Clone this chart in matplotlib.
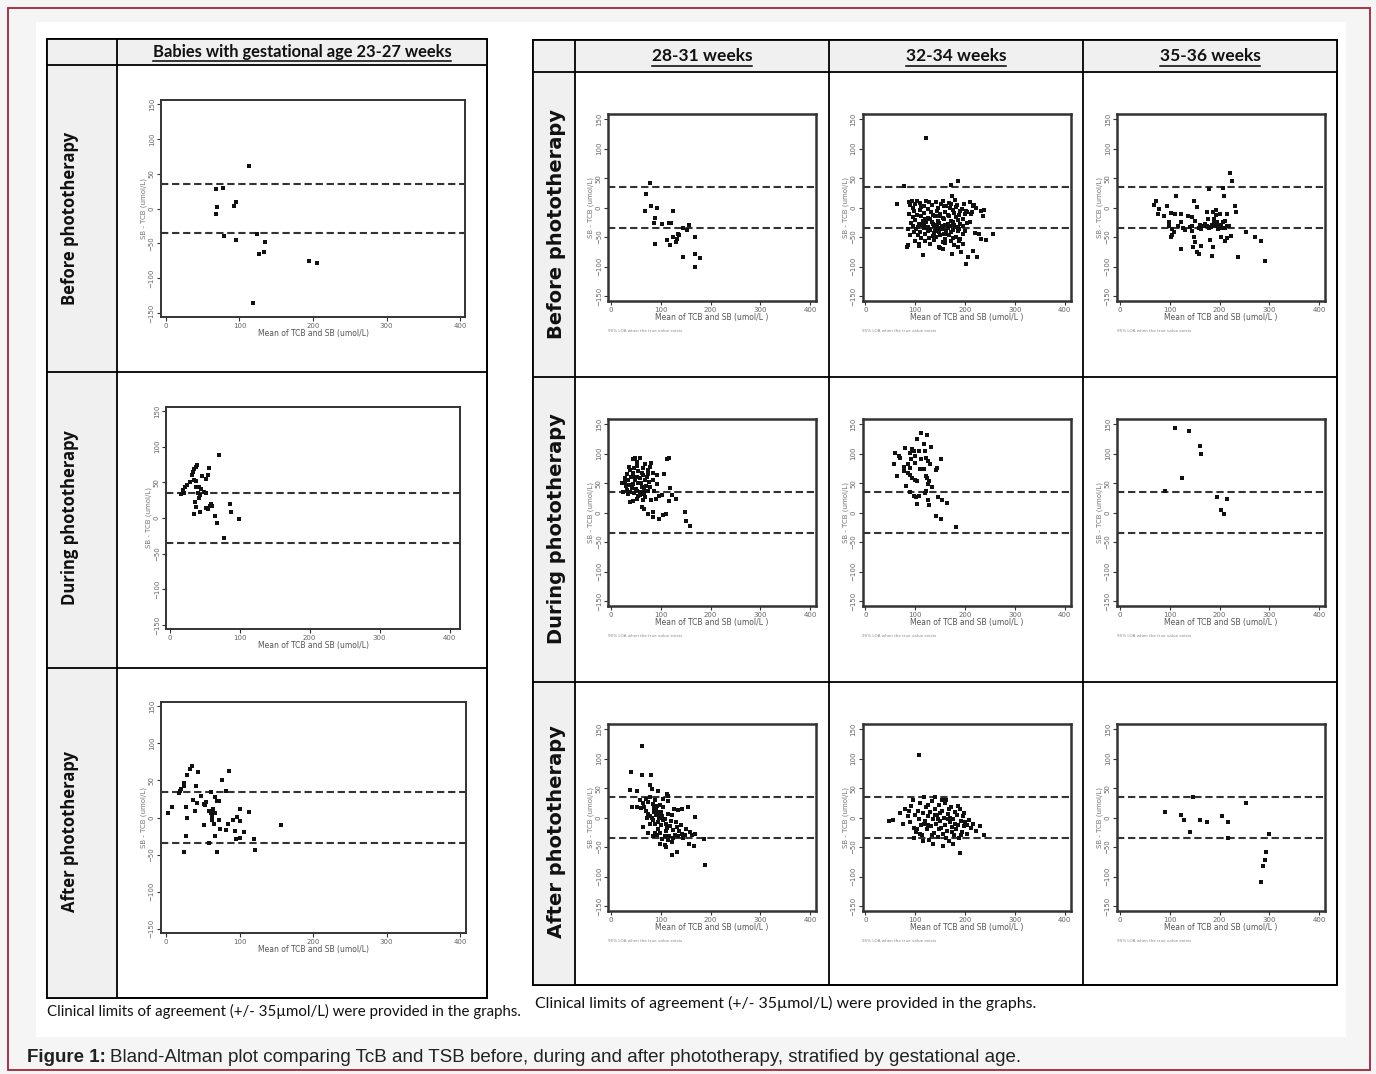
import matplotlib
matplotlib.use("Agg")
import matplotlib.pyplot as plt
from matplotlib.patches import Rectangle

# ---- data: (mean of TCB and SB, SB - TCB) ----
ga_23_27_before_x = [113, 68, 78, 69, 68, 92, 95, 79, 95, 124, 135, 126, 133, 194, 205, 118]
ga_23_27_before_y = [61, 28, 30, 2, -8, 4, 10, -39, -45, -36, -48, -65, -62, -75, -78, -135]

ga_23_27_during_x = [70, 39, 37, 35, 33, 31, 56, 54, 51, 46, 34, 37, 29, 24, 21, 19, 16, 20,
                     37, 41, 45, 40, 49, 51, 43, 41, 36, 38, 43, 34, 51, 55, 57, 59, 61,
                     65, 67, 86, 87, 99, 78]
ga_23_27_during_y = [89, 75, 72, 69, 65, 61, 70, 60, 55, 59, 53, 52, 50, 46, 43, 39, 34, 35,
                     43, 44, 41, 35, 36, 35, 32, 28, 23, 16, 9, 5, 14, 13, 17, 19, 17,
                     3, -7, 19, 9, -2, -28]

ga_23_27_after_x = [3, 8, 18, 19, 21, 24, 25, 29, 33, 36, 43, 41, 37, 42, 39, 48, 27, 28, 27, 25,
                    52, 54, 53, 61, 59, 61, 63, 62, 64, 67, 65, 69, 72, 67, 72, 74, 76, 85, 82, 84,
                    82, 70, 66, 58, 52, 91, 96, 101, 101, 94, 100, 95, 106, 113, 119, 121, 157]
ga_23_27_after_y = [6, 14, 33, 36, 39, 42, 47, 57, 66, 70, 61, 42, 24, 20, 9, 29, 14, -1, -25, -47,
                    18, 21, 17, 34, 9, 6, 2, -3, 11, 6, -9, 22, 22, 27, -3, -15, 50, 63, 36, -9,
                    -17, -46, -25, -34, -10, -3, 1, -5, 11, -18, -27, -29, -20, 7, -29, -44, -10]

ga_28_31_before = [(78, 42), (70, 23), (69, -5), (80, 2), (92, -1), (124, -5), (89, -18), (86, -26),
                   (102, -27), (117, -26), (120, -26), (145, -35), (152, -38), (156, -30), (134, -44),
                   (136, -46), (125, -50), (132, -54), (113, -55), (119, -64), (131, -59), (88, -62),
                   (169, -50), (145, -83), (168, -78), (179, -86), (169, -101)]

ga_32_34_before = [(121, 119), (78, 37), (172, 39), (186, 45), (174, 19), (63, 6), (256, -44),
                   (202, -96), (206, -83), (224, -84), (216, -73), (192, -76), (173, -79), (115, -80),
                   (85, -63), (108, -65), (149, -69), (156, -70), (243, -55), (233, -54), (229, -45),
                   (239, -4), (236, -15), (219, 4), (216, 2), (212, -10), (202, -5),
                   (88, 9), (93, 11), (104, 12), (109, 8), (121, 11), (128, 10), (141, 9), (156, 12),
                   (167, 8), (179, 13), (211, 10), (90, 4), (99, 6), (117, 3), (134, 5), (151, 7),
                   (162, 3), (171, 6), (184, 4), (198, 7), (95, -1), (112, 1), (126, -2), (146, 0),
                   (158, 2), (170, -1), (182, 1), (194, -2), (222, -1), (98, -6), (110, -4), (131, -7),
                   (143, -5), (160, -8), (176, -4), (190, -6), (204, -7), (232, -6), (88, -11),
                   (104, -12), (118, -9), (135, -13), (150, -10), (165, -12), (178, -9), (188, -13),
                   (200, -11), (215, -8), (95, -16), (112, -14), (126, -17), (140, -15), (155, -18),
                   (168, -14), (182, -16), (196, -19), (100, -21), (115, -22), (130, -19), (145, -23),
                   (158, -20), (172, -22), (185, -21), (210, -24), (92, -26), (108, -27), (122, -25),
                   (135, -28), (148, -26), (162, -29), (175, -25), (190, -27), (205, -26), (96, -31),
                   (112, -30), (125, -33), (138, -31), (150, -34), (160, -30), (170, -32), (180, -33),
                   (195, -31), (85, -36), (102, -37), (118, -35), (130, -38), (142, -36), (155, -37),
                   (165, -35), (176, -38), (188, -36), (200, -39), (98, -41), (110, -42), (125, -40),
                   (138, -43), (148, -41), (162, -44), (172, -42), (185, -40), (220, -43), (90, -46),
                   (105, -47), (120, -45), (135, -48), (150, -46), (168, -47), (182, -49), (195, -45),
                   (112, -51), (128, -52), (142, -50), (160, -53), (175, -51), (190, -54), (100, -56),
                   (120, -57), (138, -55), (155, -58), (172, -56), (188, -57), (108, -61), (130, -62),
                   (160, -60), (178, -63), (196, -61), (84, -66), (148, -66), (185, -67),
                   (133, -24), (144, -29), (153, -31), (128, -37), (166, -27), (140, -40), (157, -44),
                   (117, -28), (178, -30), (147, -15), (120, -20), (161, -39), (186, -33), (106, -33)]

ga_35_36_before = [(221, 59), (226, 45), (179, 31), (208, 33), (209, 19), (113, 20), (72, 12), (69, 4),
                   (78, -2), (77, -10), (94, 2), (89, -14), (102, -9), (111, -11), (122, -11), (148, 12),
                   (154, 1), (136, -14), (145, -16), (150, -22), (123, -24), (98, -24), (99, -31),
                   (104, -37), (109, -42), (102, -49), (104, -46), (116, -32), (131, -38), (144, -31),
                   (144, -39), (158, -35), (163, -37), (167, -32), (174, -31), (179, -35), (184, -29),
                   (188, -26), (191, -31), (194, -24), (197, -32), (203, -29), (207, -24), (212, -34),
                   (216, -32), (219, -32), (201, -10), (186, -7), (192, -12), (175, -7), (211, -22),
                   (215, -11), (231, 2), (234, -7), (223, -48), (204, -49), (211, -56), (216, -52),
                   (181, -55), (187, -67), (185, -82), (123, -71), (146, -67), (150, -58), (148, -50),
                   (159, -79), (154, -76), (162, -65), (237, -83), (253, -42), (272, -50), (284, -56),
                   (292, -90), (170, -28), (182, -33), (189, -20), (196, -36), (205, -34), (140, -33),
                   (127, -35), (160, -29), (176, -20), (193, -4)]

ga_28_31_during = [(117, 93), (113, 91), (48, 93), (44, 91), (58, 92), (53, 86), (80, 84), (78, 78),
                   (75, 72), (65, 76), (37, 78), (38, 72), (33, 65), (28, 58), (28, 52), (45, 67),
                   (52, 61), (58, 58), (65, 64), (68, 56), (74, 65), (84, 67), (92, 64), (107, 65),
                   (85, 56), (77, 52), (37, 47), (45, 48), (55, 50), (62, 44), (32, 39), (38, 35),
                   (46, 33), (53, 37), (60, 35), (67, 31), (68, 26), (64, 22), (52, 24), (44, 20),
                   (38, 18), (80, 22), (90, 24), (86, 37), (75, 37), (97, 29), (119, 42), (122, 30),
                   (131, 23), (117, 20), (63, 9), (66, 7), (75, -3), (85, 1), (85, -7), (96, -11),
                   (111, -3), (102, 30), (104, -4), (149, 1), (151, -14), (158, -22), (93, 48),
                   (25, 35), (23, 50), (40, 60), (48, 55), (55, 70), (60, 50), (70, 45), (42, 42),
                   (50, 40), (58, 30), (35, 55), (30, 45), (72, 60), (62, 68), (47, 75), (66, 38),
                   (78, 44), (55, 28), (45, 62), (35, 32), (52, 80), (68, 82)]

ga_32_34_during = [(112, 136), (123, 132), (104, 125), (117, 116), (131, 112), (80, 109), (94, 108),
                   (97, 105), (60, 101), (107, 105), (90, 102), (100, 97), (119, 104), (121, 93),
                   (125, 88), (130, 82), (151, 91), (68, 97), (70, 93), (58, 82), (92, 91), (112, 91),
                   (85, 82), (78, 78), (99, 84), (109, 74), (78, 71), (85, 67), (89, 64), (94, 59),
                   (99, 56), (103, 54), (63, 62), (89, 75), (117, 74), (121, 63), (123, 59), (127, 54),
                   (125, 48), (121, 37), (119, 33), (82, 46), (134, 44), (143, 76), (142, 72), (90, 35),
                   (97, 29), (101, 27), (107, 29), (103, 14), (125, 22), (127, 13), (145, 27), (154, 22),
                   (164, 16), (142, -5), (152, -11), (182, -24)]

ga_35_36_during = [(110, 143), (139, 139), (160, 113), (163, 99), (124, 58), (91, 36), (194, 26),
                   (215, 23), (203, 5), (209, -2)]

ga_28_31_after = [(62, 122), (40, 78), (62, 72), (80, 72), (78, 56), (82, 48), (38, 47), (52, 46),
                  (94, 46), (113, 40), (115, 37), (42, 18), (53, 18), (60, 16), (66, 18), (58, 30),
                  (70, 31), (75, 27), (78, 35), (84, 24), (86, 16), (92, 20), (99, 22), (104, 31),
                  (105, 18), (115, 29), (91, 13), (93, 10), (97, 7), (102, 3), (75, 7), (78, 2),
                  (84, -4), (72, -1), (88, -10), (95, -7), (100, -13), (105, -4), (111, -10), (115, 7),
                  (122, 5), (127, 14), (134, 13), (142, 14), (155, 18), (169, 1), (113, -18),
                  (119, -14), (125, -21), (132, -16), (137, -22), (142, -28), (151, -20), (159, -24),
                  (162, -29), (169, -27), (88, -26), (93, -29), (99, -26), (109, -31), (117, -31),
                  (125, -35), (134, -32), (145, -35), (156, -44), (167, -48), (187, -37), (99, -45),
                  (109, -46), (111, -50), (123, -41), (122, -63), (132, -58), (189, -80), (64, -16),
                  (75, -26), (85, -32), (78, -10), (90, 5), (96, 0), (108, -2), (100, 10), (86, 10),
                  (110, -22), (120, -5), (130, -8), (140, -12), (148, -30), (128, -30), (115, -38),
                  (103, -36), (95, -20), (82, 0), (70, 12), (65, 25), (88, 30)]

ga_32_34_after = [(107, 106), (48, -5), (55, -4), (70, 8), (75, -10), (80, 15), (85, 2), (90, -8),
                  (92, 20), (95, 30), (98, -18), (100, 5), (102, -25), (105, 12), (108, -3), (110, 25),
                  (112, -12), (114, -30), (116, 8), (118, 35), (120, -6), (122, 18), (124, -20),
                  (126, 2), (128, -38), (130, 10), (132, -15), (134, 28), (136, -2), (138, -26),
                  (140, 15), (142, -10), (144, 5), (146, -33), (148, 22), (150, -5), (152, -18),
                  (154, 12), (156, -28), (158, 0), (160, -12), (162, 30), (164, -22), (166, 6),
                  (168, -40), (170, -8), (172, 18), (174, -16), (176, -2), (178, -30), (180, 10),
                  (182, -20), (184, 4), (186, -12), (188, -35), (190, 15), (192, -5), (194, -25),
                  (196, 2), (198, -15), (200, -8), (204, -28), (208, -4), (212, -18), (216, -10),
                  (222, -22), (230, -15), (238, -30), (104, -20), (118, -10), (126, 22), (133, -30),
                  (139, 5), (147, -20), (153, 30), (161, -35), (167, 15), (173, -25), (179, -10),
                  (185, 20), (191, -30), (197, 8), (203, -12), (115, -40), (135, -45), (155, -48),
                  (175, -45), (189, -60), (98, -35), (88, 12), (110, -28), (140, 35), (160, 25),
                  (145, -2), (125, -12), (165, -2), (150, 8), (170, 0)]

ga_35_36_after = [(91, 10), (123, 5), (129, -4), (141, -24), (147, 35), (161, -4), (175, -7), (205, 3),
                  (217, -7), (217, -34), (253, 25), (300, -28), (293, -58), (291, -72), (287, -82),
                  (284, -110)]

right_headers = ["28-31 weeks", "32-34 weeks", "35-36 weeks"]
row_labels = ["Before phototherapy", "During phototherapy", "After phototherapy"]
x_ticks = [0, 100, 200, 300, 400]
y_ticks = [-150, -100, -50, 0, 50, 100, 150]
clinical_limit = 35

W, H = 1376, 1074
fig = plt.figure(figsize=(W / 100, H / 100), dpi=100)
fig.patch.set_facecolor("#f5f5f5")

bg = fig.add_axes([0, 0, 1, 1])
bg.set_xlim(0, W)
bg.set_ylim(H, 0)
bg.axis("off")


def px_axes(x0, y0, x1, y1):
    return fig.add_axes([x0 / W, 1 - y1 / H, (x1 - x0) / W, (y1 - y0) / H])


def box(x0, y0, x1, y1, fc="none", ec="black", lw=1.0):
    bg.add_patch(Rectangle((x0, y0), x1 - x0, y1 - y0, facecolor=fc, edgecolor=ec, lw=lw))


def hline(x0, x1, y, lw=1.0):
    bg.plot([x0, x1], [y, y], color="black", lw=lw)


def vline(x, y0, y1, lw=1.0):
    bg.plot([x, x], [y0, y1], color="black", lw=lw)


# page background, border
box(8, 8, 1370, 1070, ec="#a3243b", lw=1.3)
box(36, 22, 1346, 1037, fc="white", ec="none")

# left table
box(47, 39, 487, 998, fc="white", lw=1.3)
box(47, 39, 487, 65, fc="#f0f0f0", ec="none")
box(47, 39, 117, 998, fc="#f0f0f0", ec="none")
box(47, 39, 487, 998, lw=1.3)
hline(47, 487, 65, 1.3)
hline(47, 487, 372, 1.3)
hline(47, 487, 668, 1.3)
vline(117, 39, 998, 1.3)

# right table
box(533, 40, 1337, 985, fc="white", lw=1.3)
box(533, 40, 1337, 72, fc="#f0f0f0", ec="none")
box(533, 40, 575, 985, fc="#f0f0f0", ec="none")
box(533, 40, 1337, 985, lw=1.3)
hline(533, 1337, 72, 1.3)
hline(533, 1337, 377, 1.3)
hline(533, 1337, 682, 1.3)
for xv in [575, 829, 1083]:
    vline(xv, 40, 985, 1.3)

# headers and row labels
head_texts = []
t = bg.text(302, 52, "Babies with gestational age 23-27 weeks", ha="center", va="center",
            fontsize=11.9, fontweight="bold", family="Lato", color="#111")
head_texts.append((t, 61))
for i, lab in enumerate(right_headers):
    t = bg.text(702 + 254 * i, 56, lab, ha="center", va="center", fontsize=12.5,
                fontweight="bold", family="Lato", color="#111")
    head_texts.append((t, 66))

for yc, lab in zip([218, 518, 832], row_labels):
    bg.text(70, yc, lab, ha="center", va="center", rotation=90, fontsize=12,
            fontweight="bold", family="Open Sans", color="#111")
for yc, lab in zip([224, 529, 832], row_labels):
    bg.text(556, yc, lab, ha="center", va="center", rotation=90, fontsize=14,
            fontweight="bold", family="DejaVu Sans", color="#111")

bg.text(47, 1011, "Clinical limits of agreement (+/- 35\u00b5mol/L) were provided in the graphs.",
        ha="left", va="center", fontsize=10.8, family="Lato", color="#111")
bg.text(535, 1003, "Clinical limits of agreement (+/- 35\u00b5mol/L) were provided in the graphs.",
        ha="left", va="center", fontsize=11.4, family="Lato", color="#111")

cap = bg.text(27, 1057, "Figure 1:", ha="left", va="center", fontsize=13.5,
              fontweight="bold", family="Liberation Sans", color="#222")


def panel(frame, xs, ys, xlim, ylim, xlabel, note, lw_frame):
    ax = px_axes(*frame)
    ax.scatter(xs, ys, s=6.5, marker="s", color="#111111", linewidths=0, zorder=3)
    for lv in (clinical_limit, -clinical_limit):
        ax.axhline(lv, color="#333333", lw=1.5, ls=(0, (3.5, 1.8)), zorder=2)
    ax.set_xlim(*xlim)
    ax.set_ylim(*ylim)
    ax.set_xticks(x_ticks)
    ax.set_yticks(y_ticks)
    ax.tick_params(direction="out", length=3, width=0.8, labelsize=5, labelcolor="#666",
                   color="#333", pad=1.5)
    ax.tick_params(axis="y", labelrotation=90)
    for lab in ax.get_yticklabels():
        lab.set_va("center")
    for sp in ax.spines.values():
        sp.set_linewidth(lw_frame)
        sp.set_color("#333333")
    ax.set_xlabel(xlabel, fontsize=5.5, color="#555", labelpad=0)
    ax.set_ylabel("SB - TCB (umol/L)", fontsize=5, color="#777", labelpad=1)
    if note:
        ax.text(0, -0.15, "95% LOA when the true value exists", transform=ax.transAxes,
                fontsize=3, color="#888", ha="left", va="top")
    return ax


left_frames = [(161, 100, 465, 317), (166, 407, 460, 629), (161, 702, 466, 933)]
left_xlims = [(-6.8, 406.8), (-5.5, 415), (-6.8, 408)]
left_data = [(ga_23_27_before_x, ga_23_27_before_y),
             (ga_23_27_during_x, ga_23_27_during_y),
             (ga_23_27_after_x, ga_23_27_after_y)]
for fr, xl, (xs, ys) in zip(left_frames, left_xlims, left_data):
    panel(fr, xs, ys, xl, (-155.7, 155.7), "Mean of TCB and SB (umol/L)", False, 1.4)

right_data = [[ga_28_31_before, ga_32_34_before, ga_35_36_before],
              [ga_28_31_during, ga_32_34_during, ga_35_36_during],
              [ga_28_31_after, ga_32_34_after, ga_35_36_after]]
for r in range(3):
    for c in range(3):
        x0 = 608 + 254.5 * c
        y0 = 114 + 305 * r
        pts = right_data[r][c]
        xs = [p[0] for p in pts]
        ys = [p[1] for p in pts]
        panel((x0, y0, x0 + 208, y0 + 187), xs, ys, (-6, 412), (-158.5, 159),
              "Mean of TCB and SB (umol/L )", True, 1.8)

fig.canvas.draw()
rend = fig.canvas.get_renderer()
for t, yl in head_texts:
    bb = t.get_window_extent(rend)
    hline(bb.x0, bb.x1, yl, 1.1)
cb = cap.get_window_extent(rend)
bg.text(cb.x1 + 4, 1057, "Bland-Altman plot comparing TcB and TSB before, during and after "
        "phototherapy, stratified by gestational age.", ha="left", va="center", fontsize=13.5,
        family="Liberation Sans", color="#222")

fig.savefig("out.png", dpi=100, facecolor=fig.get_facecolor())
